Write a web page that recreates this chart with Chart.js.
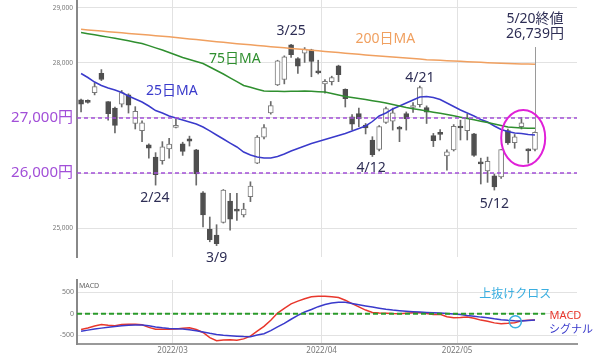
<!DOCTYPE html>
<html>
<head>
<meta charset="utf-8">
<script src="https://cdn.jsdelivr.net/npm/chart.js@4.4.0/dist/chart.umd.min.js"></script>
<style>
  html, body { margin: 0; padding: 0; background: #fff; }
  #wrap { position: relative; width: 600px; height: 356px; }
  #main { position: absolute; left: 0; top: 0; }
  #macd { position: absolute; left: 0; top: 270px; }
</style>
</head>
<body>
<div id="wrap">
  <canvas id="main" width="600" height="270"></canvas>
  <canvas id="macd" width="600" height="86"></canvas>
</div>
<script>
// Nikkei 225 daily candles, 2022/2/7 - 2022/5/20, with MAs and MACD

const dates = [
  '2/7', '2/8', '2/9', '2/10', '2/14', '2/15', '2/16', '2/17', '2/18', '2/21',
  '2/22', '2/24', '2/25', '2/28', '3/1', '3/2', '3/3', '3/4', '3/7', '3/8',
  '3/9', '3/10', '3/11', '3/14', '3/15', '3/16', '3/17', '3/18', '3/22', '3/23',
  '3/24', '3/25', '3/28', '3/29', '3/30', '3/31', '4/1', '4/4', '4/5', '4/6',
  '4/7', '4/8', '4/11', '4/12', '4/13', '4/14', '4/15', '4/18', '4/19', '4/20',
  '4/21', '4/22', '4/25', '4/26', '4/27', '4/28', '5/2', '5/6', '5/9', '5/10',
  '5/11', '5/12', '5/13', '5/16', '5/17', '5/18', '5/19', '5/20'
];

const opens = [
  27330, 27300, 27460, 27810, 27300, 27180, 27250, 27420, 26900, 26770,
  26510, 26290, 26225, 26440, 26830, 26530, 26620, 26420, 25640, 24980,
  24870, 25100, 25490, 25330, 25240, 25570, 26180, 26650, 27090, 27600,
  27700, 28330, 28080, 28180, 28240, 27830, 27620, 27660, 27950, 27520,
  27020, 27080, 26870, 26600, 26430, 26920, 26940, 26830, 27080, 27190,
  27240, 27190, 26680, 26740, 26310, 26420, 26840, 26770, 26710, 26180,
  26040, 25950, 25930, 26770, 26550, 26840, 26430, 26430
];
const highs = [
  27345, 27330, 27640, 27880, 27300, 27200, 27500, 27440, 27206, 26950,
  26530, 26370, 26570, 26630, 26980, 26560, 26670, 26430, 25660, 25200,
  25060, 25700, 25630, 25630, 25450, 25840, 26680, 26880, 27300, 28050,
  28130, 28340, 28100, 28280, 28250, 28050, 27700, 27760, 27960, 27530,
  27060, 27180, 26900, 26660, 26860, 27200, 27180, 26850, 27110, 27280,
  27580, 27220, 26720, 26790, 26420, 26880, 26960, 27070, 26720, 26270,
  26290, 25980, 26430, 26800, 26700, 27010, 26440, 26750
];
const lows = [
  27110, 27270, 27420, 27680, 26960, 26730, 27200, 27090, 26800, 26570,
  26270, 25780, 26160, 26270, 26820, 26320, 26490, 25780, 25020, 24750,
  24680, 25090, 24960, 25140, 25200, 25480, 26170, 26620, 27070, 27590,
  27620, 28100, 27810, 28010, 27750, 27800, 27450, 27600, 27660, 27200,
  26790, 26840, 26710, 26300, 26400, 26900, 26780, 26570, 26780, 27100,
  27200, 26900, 26480, 26600, 26050, 26400, 26600, 26600, 26300, 25800,
  25830, 25690, 25900, 26520, 26450, 26800, 26180, 26400
];
const closes = [
  27250, 27285, 27570, 27700, 27080, 26865, 27460, 27232, 27120, 26910,
  26450, 25970, 26476, 26526, 26844, 26393, 26577, 25985, 25240, 24790,
  24717, 25690, 25162, 25307, 25346, 25762, 26652, 26827, 27224, 28040,
  28110, 28149, 27943, 28252, 28027, 27821, 27665, 27736, 27787, 27350,
  26888, 26985, 26821, 26335, 26843, 27172, 27093, 26799, 26985, 27217,
  27553, 27105, 26590, 26700, 26386, 26847, 26818, 27003, 26319, 26167,
  26213, 25748, 26427, 26547, 26659, 26911, 26402, 26739
];

const ma25 = [
  27809, 27736, 27654, 27591, 27545, 27509, 27464, 27400, 27345, 27291,
  27218, 27136, 27091, 27036, 27000, 26964, 26927, 26891, 26836, 26764,
  26691, 26618, 26545, 26473, 26382, 26327, 26291, 26273, 26273, 26300,
  26345, 26400, 26446, 26491, 26536, 26573, 26609, 26645, 26682, 26718,
  26764, 26809, 26855, 26936, 27036, 27091, 27164, 27218, 27273, 27327,
  27382, 27391, 27373, 27336, 27273, 27209, 27145, 27091, 27036, 26973,
  26927, 26855, 26791, 26755, 26727, 26718, 26700, 26691
];
const ma75 = [
  28554, 28533, 28512, 28491, 28470, 28448, 28427, 28403, 28378, 28354,
  28315, 28275, 28236, 28191, 28145, 28100, 28064, 28027, 27991, 27927,
  27864, 27800, 27730, 27661, 27591, 27558, 27524, 27491, 27488, 27485,
  27482, 27485, 27488, 27491, 27485, 27479, 27473, 27446, 27418, 27391,
  27373, 27354, 27336, 27315, 27294, 27273, 27245, 27218, 27191, 27170,
  27148, 27127, 27106, 27085, 27064, 27040, 27015, 26991, 26967, 26942,
  26918, 26891, 26864, 26836, 26828, 26820, 26813, 26813
];
const ma200 = [
  28612, 28601, 28591, 28580, 28570, 28559, 28549, 28538, 28528, 28517,
  28507, 28496, 28486, 28475, 28462, 28449, 28437, 28425, 28412, 28400,
  28388, 28375, 28363, 28351, 28341, 28330, 28319, 28308, 28297, 28286,
  28276, 28265, 28254, 28243, 28233, 28222, 28211, 28201, 28190, 28179,
  28169, 28158, 28147, 28137, 28128, 28118, 28109, 28099, 28090, 28080,
  28071, 28061, 28054, 28048, 28042, 28036, 28030, 28024, 28018, 28012,
  28006, 28000, 27994, 27990, 27987, 27983, 27980, 27976
];

const macdValues = [
  -370, -335, -290, -255, -270, -280, -255, -245, -245, -260,
  -320, -362, -366, -366, -360, -340, -327, -370, -440, -560,
  -635, -615, -610, -620, -590, -525, -410, -297, -153, 15,
  126, 230, 295, 350, 395, 410, 412, 400, 380, 317,
  237, 160, 85, 30, 18, 10, 3, 0, 10, 22,
  20, 5, -20, -15, -70, -95, -90, -80, -105, -150,
  -175, -215, -234, -225, -210, -165, -155, -147
];
const signalValues = [
  -410, -385, -360, -338, -320, -300, -283, -268, -265, -265,
  -285, -310, -330, -345, -352, -360, -375, -400, -430, -460,
  -485, -505, -518, -528, -535, -538, -500, -470, -395, -310,
  -225, -130, -40, 40, 100, 165, 215, 250, 270, 268,
  240, 210, 182, 155, 130, 105, 85, 70, 58, 47,
  38, 30, 23, 14, 4, -6, -16, -40, -60, -80,
  -96, -120, -140, -156, -165, -170, -160, -147
];

const priceTicks = [25000, 26000, 27000, 28000, 29000];
const markedPrices = [26000, 27000];
const macdTicks = [-500, 0, 500];
const monthStarts = ['3/1', '4/1', '5/2'];
const monthLabels = ['2022/03', '2022/04', '2022/05'];

// styles
const FONT = "'Noto Sans', 'Noto Sans CJK JP', sans-serif";
const NAVY = '#2e2e55';
const BLUE = '#3a3acb';
const GREEN = '#2f8f2f';
const ORANGE = '#f0a060';
const PURPLE = '#a24fd8';
const X_MIN = -0.6, X_MAX = 73.2;

Chart.defaults.font.family = FONT;
Chart.defaults.animation = false;

const monthLines = monthStarts.map(m => dates.indexOf(m) - 0.5);
const points = arr => arr.map((v, i) => ({ x: i, y: v }));
const isUp = dates.map((d, i) => closes[i] >= opens[i]);
const fmt = v => v.toLocaleString('en-US');
const isMarked = c => !!(c.tick && markedPrices.includes(c.tick.value));

// text annotations placed in data coordinates (index, value)
const priceNotes = [
  { text: '3/25', i: 31, v: 28580, color: NAVY },
  { text: '75日MA', i: 22.7, v: 28073, color: GREEN },
  { text: '25日MA', i: 13.4, v: 27491, color: BLUE },
  { text: '200日MA', i: 44.9, v: 28436, color: ORANGE },
  { text: '5/20終値', i: 67, v: 28800, color: NAVY },
  { text: '26,739円', i: 67, v: 28527, color: NAVY },
  { text: '4/21', i: 50, v: 27727, color: NAVY },
  { text: '4/12', i: 42.8, v: 26091, color: NAVY },
  { text: '2/24', i: 10.9, v: 25546, color: NAVY },
  { text: '3/9', i: 20, v: 24455, color: NAVY },
  { text: '5/12', i: 61, v: 25437, color: NAVY }
];
const macdNotes = [
  { text: '上抜けクロス', i: 64.1, v: 438, color: '#3aaee0', size: 12 },
  { text: 'MACD', i: 71.5, v: -54, color: '#e8372c', size: 11 },
  { text: 'シグナル', i: 72.3, v: -382, color: BLUE, size: 11 }
];

function drawNotes(chart, notes, defSize) {
  const { ctx, scales } = chart;
  ctx.save();
  ctx.textAlign = 'center';
  ctx.textBaseline = 'middle';
  notes.forEach(n => {
    ctx.font = (n.size || defSize) + 'px ' + FONT;
    ctx.fillStyle = n.color;
    ctx.fillText(n.text, scales.x.getPixelForValue(n.i), scales.y.getPixelForValue(n.v));
  });
  ctx.restore();
}

const mainNotesPlugin = {
  id: 'mainNotes',
  afterDraw(chart) {
    const { ctx, scales } = chart;
    const last = dates.length - 1;
    const lx = scales.x.getPixelForValue(last);
    ctx.save();
    // leader line from the closing price note to the last candle
    ctx.strokeStyle = '#9a9a9a';
    ctx.lineWidth = 1;
    ctx.beginPath();
    ctx.moveTo(Math.round(lx) + 0.5, scales.y.getPixelForValue(28290));
    ctx.lineTo(Math.round(lx) + 0.5, scales.y.getPixelForValue(highs[last]));
    ctx.stroke();
    // highlight ellipse round the last few candles
    ctx.strokeStyle = '#e020d8';
    ctx.lineWidth = 2;
    ctx.beginPath();
    ctx.ellipse(scales.x.getPixelForValue(65.26), scales.y.getPixelForValue(26636), 22, 28, 0, 0, Math.PI * 2);
    ctx.stroke();
    ctx.restore();
    drawNotes(chart, priceNotes, 14);
  }
};

const macdNotesPlugin = {
  id: 'macdNotes',
  afterDraw(chart) {
    const { ctx, scales, chartArea } = chart;
    ctx.save();
    ctx.font = '7px ' + FONT;
    ctx.fillStyle = '#666';
    ctx.textAlign = 'left';
    ctx.textBaseline = 'middle';
    ctx.fillText('MACD', chartArea.left + 2, chartArea.top + 6);
    ctx.strokeStyle = '#3aaee0';
    ctx.lineWidth = 1.5;
    ctx.beginPath();
    ctx.arc(scales.x.getPixelForValue(64.1), scales.y.getPixelForValue(-187), 6, 0, Math.PI * 2);
    ctx.stroke();
    ctx.restore();
    drawNotes(chart, macdNotes, 11);
  }
};

// main price chart
new Chart(document.getElementById('main'), {
  type: 'bar',
  data: {
    datasets: [
      {
        type: 'line', data: points(ma200), borderColor: ORANGE, borderWidth: 1.5,
        pointRadius: 0, order: -3
      },
      {
        type: 'line', data: points(ma75), borderColor: GREEN, borderWidth: 1.5,
        pointRadius: 0, order: -2
      },
      {
        type: 'line', data: points(ma25), borderColor: BLUE, borderWidth: 1.5,
        pointRadius: 0, order: -1
      },
      ...markedPrices.map(p => ({
        type: 'line', data: [{ x: X_MIN, y: p }, { x: X_MAX, y: p }],
        borderColor: PURPLE, borderWidth: 1.5, borderDash: [4, 3], pointRadius: 0, order: -4
      })),
      {
        data: dates.map((d, i) => ({ x: i, y: [opens[i], closes[i]] })),
        backgroundColor: isUp.map(u => u ? '#ffffff' : '#4f4f4f'),
        borderColor: isUp.map(u => u ? '#7a7a7a' : '#4f4f4f'),
        borderWidth: 1, borderSkipped: false, barThickness: 5, minBarLength: 2,
        grouped: false, order: 0
      },
      {
        data: dates.map((d, i) => ({ x: i, y: [lows[i], highs[i]] })),
        backgroundColor: '#6a6a6a', borderWidth: 0, barThickness: 1,
        grouped: false, order: 1
      }
    ]
  },
  options: {
    responsive: false,
    layout: { padding: { left: 0, right: 23, top: 0, bottom: 0 } },
    plugins: { legend: { display: false }, tooltip: { enabled: false } },
    scales: {
      x: {
        type: 'linear', min: X_MIN, max: X_MAX, offset: false,
        afterBuildTicks: s => { s.ticks = monthLines.map(v => ({ value: v })); },
        afterFit: s => { s.height = 13; },
        ticks: { display: false },
        grid: { color: '#e2e2e2', drawTicks: false, offset: false },
        border: { display: false }
      },
      y: {
        min: 24473, max: 29145,
        afterBuildTicks: s => { s.ticks = priceTicks.map(v => ({ value: v })); },
        afterFit: s => { s.width = 77; s.paddingTop = 0; s.paddingBottom = 0; },
        ticks: {
          padding: 4,
          color: c => isMarked(c) ? PURPLE : '#777',
          font: c => isMarked(c) ? { size: 15 } : { size: 6.5 },
          callback: v => markedPrices.includes(v) ? fmt(v) + '円' : fmt(v)
        },
        grid: { color: '#e2e2e2', drawTicks: false },
        border: { color: '#888', width: 2 }
      }
    }
  },
  plugins: [mainNotesPlugin]
});

// MACD panel
new Chart(document.getElementById('macd'), {
  type: 'line',
  data: {
    datasets: [
      {
        data: [{ x: X_MIN, y: 0 }, { x: 68.5, y: 0 }], borderColor: '#2a9a2a',
        borderWidth: 2, borderDash: [5, 3], pointRadius: 0
      },
      { data: points(signalValues), borderColor: BLUE, borderWidth: 1.5, pointRadius: 0 },
      { data: points(macdValues), borderColor: '#e8372c', borderWidth: 1.5, pointRadius: 0 }
    ]
  },
  options: {
    responsive: false,
    layout: { padding: { left: 0, right: 23, top: 10, bottom: 0 } },
    plugins: { legend: { display: false }, tooltip: { enabled: false } },
    scales: {
      x: {
        type: 'linear', min: X_MIN, max: X_MAX, offset: false,
        afterBuildTicks: s => { s.ticks = monthLines.map(v => ({ value: v })); },
        afterFit: s => { s.height = 12; },
        ticks: {
          autoSkip: false, maxRotation: 0, padding: 2, color: '#777', font: { size: 8 },
          callback: v => monthLabels[monthLines.indexOf(v)]
        },
        grid: { color: '#e2e2e2', drawTicks: false, offset: false },
        border: { color: '#999', width: 2 }
      },
      y: {
        min: -710, max: 790,
        afterBuildTicks: s => { s.ticks = macdTicks.map(v => ({ value: v })); },
        afterFit: s => { s.width = 77; s.paddingTop = 0; s.paddingBottom = 0; },
        ticks: { padding: 3, color: '#777', font: { size: 7 } },
        grid: { color: '#e2e2e2', drawTicks: false },
        border: { color: '#888', width: 2 }
      }
    }
  },
  plugins: [macdNotesPlugin]
});
</script>
</body>
</html>
